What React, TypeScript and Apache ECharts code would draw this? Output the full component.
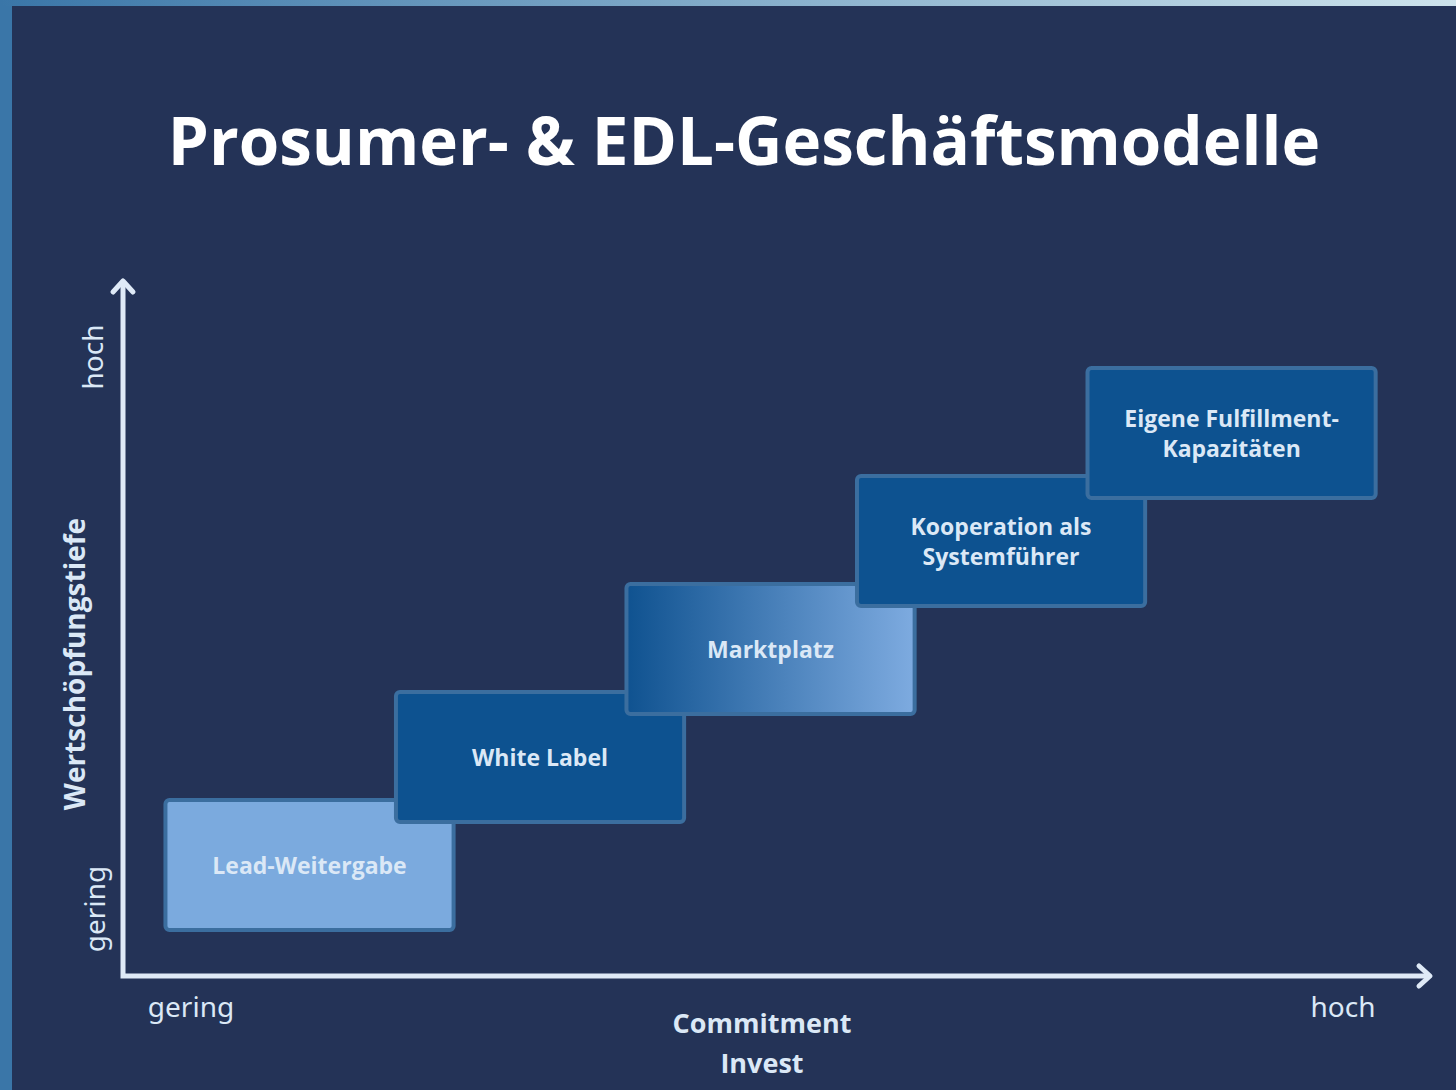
import React, { useEffect, useRef } from "react";
import * as echarts from "echarts";

// Business models, their commitment / invest level (x) and value-creation depth (y)
const models: string[] = [
  "Lead-Weitergabe",
  "White Label",
  "Marktplatz",
  "Kooperation als\nSystemführer",
  "Eigene Fulfillment-\nKapazitäten",
];
const commitmentLevel: number[] = [1, 2, 3, 4, 5];
const wertschoepfungLevel: number[] = [1, 2, 3, 4, 5];

const titleText = "Prosumer- & EDL-Geschäftsmodelle";
const xAxisName = ["Commitment", "Invest"];
const yAxisName = "Wertschöpfungstiefe";
const lowLabel = "gering";
const highLabel = "hoch";

// styles
const BG = "#243357";
const AXIS = "#dfeaf7";
const TEXT = "#dbe8f6";
const BORDER = "#3b6e9f";
const darkFill = "#0d5290";
const lightFill = "#7baade";
const gradFill = {
  type: "linear",
  x: 0,
  y: 0,
  x2: 1,
  y2: 0,
  colorStops: [
    { offset: 0, color: "#0f5290" },
    { offset: 1, color: "#7eabe0" },
  ],
};
const boxFills: any[] = [lightFill, darkFill, gradFill, darkFill, darkFill];

export default function App() {
  const ref = useRef<HTMLDivElement>(null);

  useEffect(() => {
    if (!ref.current) return;
    const chart = echarts.init(ref.current, null, { renderer: "svg" });

    const data = models.map((m, i) => [commitmentLevel[i], wertschoepfungLevel[i], m, i]);

    const option: any = {
      animation: false,
      backgroundColor: BG,
      grid: { left: 79, width: 1337, top: 325, height: 648 },
      xAxis: { type: "value", min: 0, max: 5.8, show: false },
      yAxis: { type: "value", min: 0, max: 6, show: false },
      series: [
        {
          type: "custom",
          data,
          renderItem: (params: any, api: any) => {
            const c = api.coord([api.value(0), api.value(1)]);
            const s = api.size([1, 1]);
            const w = s[0] * 1.25;
            const h = s[1] * 1.205;
            const idx = api.value(3);
            return {
              type: "group",
              children: [
                {
                  type: "rect",
                  shape: { x: c[0] - w / 2, y: c[1] - h / 2, width: w, height: h, r: 4 },
                  style: { fill: boxFills[idx], stroke: BORDER, lineWidth: 4 },
                },
                {
                  type: "text",
                  style: {
                    text: models[idx],
                    x: c[0],
                    y: c[1],
                    align: "center",
                    verticalAlign: "middle",
                    fill: TEXT,
                    fontFamily: "Open Sans",
                    fontWeight: "bold",
                    fontSize: 23,
                    lineHeight: 30,
                  },
                },
              ],
            };
          },
        },
      ],
      graphic: [
        // decorative stripes
        { type: "rect", shape: { x: 0, y: 0, width: 12, height: 1090 }, style: { fill: "#3a76a8" } },
        {
          type: "rect",
          shape: { x: 0, y: 0, width: 1456, height: 6 },
          style: {
            fill: {
              type: "linear",
              x: 0,
              y: 0,
              x2: 1,
              y2: 0,
              colorStops: [
                { offset: 0, color: "#3a76a8" },
                { offset: 1, color: "#cde3ec" },
              ],
            },
          },
        },
        // title
        {
          type: "text",
          style: {
            text: titleText,
            x: 744,
            y: 139,
            align: "center",
            verticalAlign: "middle",
            fill: "#ffffff",
            fontFamily: "Open Sans",
            fontWeight: "bold",
            fontSize: 65.5,
          },
        },
        // axes
        {
          type: "polyline",
          shape: { points: [[123, 283], [123, 976], [1430, 976]] },
          style: { stroke: AXIS, lineWidth: 5, fill: "none", lineJoin: "miter" },
        },
        {
          type: "polyline",
          shape: { points: [[113, 292], [123, 281], [133, 292]] },
          style: { stroke: AXIS, lineWidth: 5, fill: "none", lineCap: "round", lineJoin: "round" },
        },
        {
          type: "polyline",
          shape: { points: [[1419, 966], [1430, 976], [1419, 986]] },
          style: { stroke: AXIS, lineWidth: 5, fill: "none", lineCap: "round", lineJoin: "round" },
        },
        // x axis labels
        {
          type: "text",
          style: { text: lowLabel, x: 191, y: 1006, align: "center", verticalAlign: "middle", fill: TEXT, fontFamily: "Noto Sans", fontSize: 28 },
        },
        {
          type: "text",
          style: { text: highLabel, x: 1343, y: 1006, align: "center", verticalAlign: "middle", fill: TEXT, fontFamily: "Noto Sans", fontSize: 28 },
        },
        {
          type: "text",
          style: {
            text: xAxisName.join("\n"),
            x: 762,
            y: 1042,
            align: "center",
            verticalAlign: "middle",
            fill: TEXT,
            fontFamily: "Open Sans",
            fontWeight: "bold",
            fontSize: 27,
            lineHeight: 40,
          },
        },
        // y axis labels (rotated)
        {
          type: "text",
          x: 92,
          y: 357,
          rotation: Math.PI / 2,
          style: { text: highLabel, x: 0, y: 0, align: "center", verticalAlign: "middle", fill: TEXT, fontFamily: "Noto Sans", fontSize: 28 },
        },
        {
          type: "text",
          x: 94,
          y: 909,
          rotation: Math.PI / 2,
          style: { text: lowLabel, x: 0, y: 0, align: "center", verticalAlign: "middle", fill: TEXT, fontFamily: "Noto Sans", fontSize: 28 },
        },
        {
          type: "text",
          x: 74,
          y: 664,
          rotation: Math.PI / 2,
          style: {
            text: yAxisName,
            x: 0,
            y: 0,
            align: "center",
            verticalAlign: "middle",
            fill: TEXT,
            fontFamily: "Open Sans",
            fontWeight: "bold",
            fontSize: 28,
          },
        },
      ],
    };

    chart.setOption(option);
    return () => chart.dispose();
  }, []);

  return (
    <div
      ref={ref}
      style={{ position: "fixed", left: 0, top: 0, width: 1456, height: 1090, background: BG }}
    />
  );
}
